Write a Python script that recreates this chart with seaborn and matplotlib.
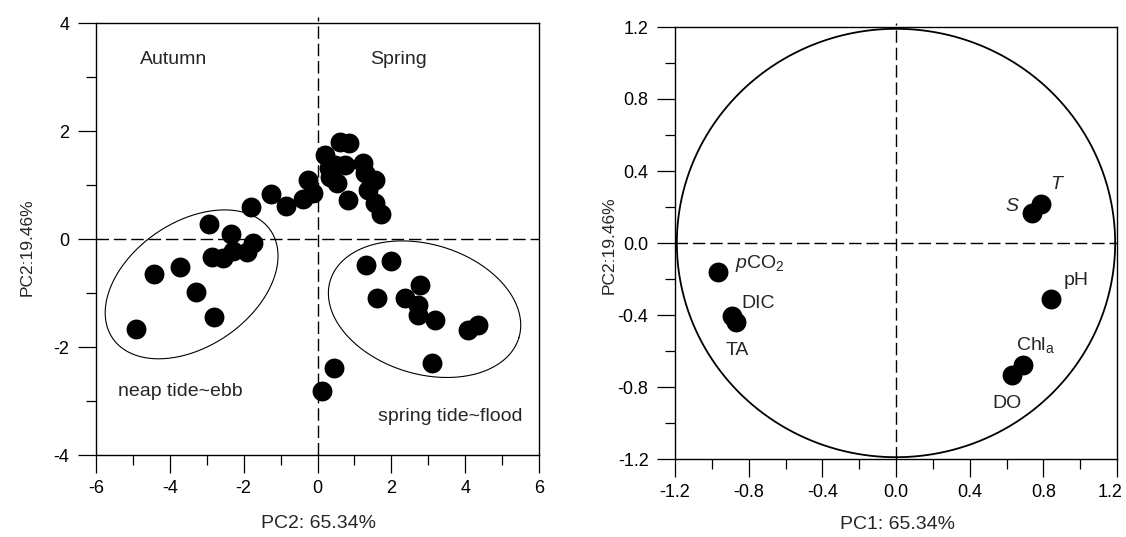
import numpy as np
import pandas as pd
import matplotlib
matplotlib.use("Agg")
import matplotlib.pyplot as plt
from matplotlib.ticker import MultipleLocator, FormatStrFormatter
from matplotlib import font_manager
import matplotlib.transforms as mtransforms
import seaborn as sns

# ---------------- data ----------------
# sample scores (left panel)
score_pc1 = [-4.92, -4.42, -3.73, -3.29, -2.80, -2.93, -2.34, -2.87, -2.55, -2.28, -1.92, -1.74,
             -1.81, -1.26, -0.84, -0.40, -0.25, -0.13,
             0.20, 0.30, 0.61, 0.84, 0.47, 0.75, 0.34, 0.52, 0.83, 1.24, 1.30, 1.56, 1.38, 1.56, 1.72,
             0.45, 0.11,
             1.31, 1.99, 1.60, 2.37, 2.78, 2.73, 2.73, 3.18, 4.09, 4.36, 3.09]
score_pc2 = [-1.67, -0.65, -0.52, -0.98, -1.44, 0.28, 0.10, -0.33, -0.36, -0.22, -0.235, -0.08,
             0.60, 0.83, 0.61, 0.75, 1.09, 0.85,
             1.56, 1.32, 1.80, 1.77, 1.37, 1.37, 1.15, 1.03, 0.72, 1.40, 1.22, 1.09, 0.91, 0.66, 0.46,
             -2.38, -2.81,
             -0.49, -0.41, -1.10, -1.10, -0.85, -1.22, -1.41, -1.50, -1.69, -1.59, -2.30]

# variable loadings (right panel)
var_names = ["S", "T", "pCO2", "DIC", "TA", "pH", "Chla", "DO"]
load_pc1 = [0.740, 0.787, -0.965, -0.889, -0.870, 0.841, 0.688, 0.631]
load_pc2 = [0.165, 0.217, -0.159, -0.404, -0.440, -0.313, -0.678, -0.733]

# group annotations (left panel)
group_text = ["Autumn", "Spring", "neap tide~ebb", "spring tide~flood"]
group_x = [-3.91, 2.19, -3.71, 3.60]
group_y = [3.24, 3.24, -2.91, -3.37]

# ellipses: centre (data), semi-axes (in x-data units), tilt angle (deg, on screen)
ell_cx = [-3.41, 2.90]
ell_cy = [-0.84, -1.30]
ell_a = [2.59, 2.67]
ell_b = [1.685, 1.755]
ell_ang = [34.3, -16.9]

# loading labels
lab_text = [r"$\mathit{S}$", r"$\mathit{T}$", r"$\mathit{p}\mathrm{CO}_2$", "DIC", "TA", "pH",
            r"Chl$_\mathrm{a}$", "DO"]
lab_x = [0.592, 0.836, -0.874, -0.838, -0.923, 0.908, 0.650, 0.523]
lab_y = [0.179, 0.298, -0.141, -0.359, -0.622, -0.233, -0.594, -0.918]

circle_r = 1.19

# ---------------- style ----------------
sns.set_style("ticks")
plt.rcParams["font.family"] = ["Liberation Sans", "DejaVu Sans"]
plt.rcParams["mathtext.fontset"] = "custom"
plt.rcParams["mathtext.rm"] = "Liberation Sans"
plt.rcParams["mathtext.it"] = "Liberation Sans:italic"
plt.rcParams["mathtext.bf"] = "Liberation Sans:bold"
plt.rcParams["axes.unicode_minus"] = False


def has_font(name):
    try:
        font_manager.findfont(font_manager.FontProperties(family=name), fallback_to_default=False)
        return True
    except Exception:
        return False


narrow = has_font("Liberation Sans Narrow")
ylab_family = ["Liberation Sans Narrow", "DejaVu Sans"] if narrow else ["Liberation Sans", "DejaVu Sans"]
ylab_size = 14 if narrow else 12.5

W, H = 1126, 537
fig = plt.figure(figsize=(W / 100, H / 100), dpi=100)
ax1 = fig.add_axes([96 / W, (H - 455) / H, 443 / W, 432 / H])
ax2 = fig.add_axes([675 / W, (H - 459) / H, 442 / W, 432 / H])

dash = (0, (9, 3.5))
TICK_FS = 13
TXT_FS = 14


def style_axes(ax, major, minor, fmt):
    for s in ax.spines.values():
        s.set_linewidth(1.0)
        s.set_color("black")
        s.set_visible(True)
    ax.xaxis.set_major_locator(MultipleLocator(major))
    ax.yaxis.set_major_locator(MultipleLocator(major))
    ax.xaxis.set_minor_locator(MultipleLocator(minor))
    ax.yaxis.set_minor_locator(MultipleLocator(minor))
    ax.xaxis.set_major_formatter(FormatStrFormatter(fmt))
    ax.yaxis.set_major_formatter(FormatStrFormatter(fmt))
    ax.tick_params(which="major", direction="out", length=13, width=0.9, colors="black",
                   labelsize=TICK_FS, top=False, right=False)
    ax.tick_params(which="minor", direction="out", length=7, width=0.9, colors="black",
                   top=False, right=False)
    ax.tick_params(axis="x", which="major", pad=5)
    ax.tick_params(axis="y", which="major", pad=6)
    ax.grid(False)


# ---------------- left panel: scores ----------------
scores = pd.DataFrame({"PC1": score_pc1, "PC2": score_pc2})
ax1.set_xlim(-6, 6)
ax1.set_ylim(-4, 4)
ax1.plot([-6, 6], [0, 0], color="black", lw=1.0, ls=dash, zorder=1)
ax1.plot([0, 0], [-4, 4.12], color="black", lw=1.0, ls=dash, zorder=1, clip_on=False)
sns.scatterplot(data=scores, x="PC1", y="PC2", ax=ax1, color="black", s=205,
                linewidth=0, zorder=3, legend=False)

# ellipses drawn in screen-proportional units
pos1 = ax1.get_position()
sx = pos1.width * W / 12.0
sy = pos1.height * H / 8.0
t = np.linspace(0, 2 * np.pi, 400)
for cx, cy, a, b, ang in zip(ell_cx, ell_cy, ell_a, ell_b, ell_ang):
    th = np.deg2rad(ang)
    ap, bp = a * sx, b * sx
    dxp = ap * np.cos(t) * np.cos(th) - bp * np.sin(t) * np.sin(th)
    dyp = ap * np.cos(t) * np.sin(th) + bp * np.sin(t) * np.cos(th)
    ax1.plot(cx + dxp / sx, cy + dyp / sy, color="black", lw=0.8, zorder=2)

for txt, x, y in zip(group_text, group_x, group_y):
    ax1.text(x, y, txt, ha="center", va="baseline", fontsize=TXT_FS)

style_axes(ax1, 2, 1, "%d")
ax1.set_xlabel("PC2: 65.34%", fontsize=TXT_FS)
ax1.xaxis.set_label_coords(0.503, -0.138)
ax1.set_ylabel("PC2:19.46%", fontsize=ylab_size, family=ylab_family)
ax1.yaxis.set_label_coords(-0.139, 0.480)

# ---------------- right panel: loadings ----------------
loads = pd.DataFrame({"PC1": load_pc1, "PC2": load_pc2, "var": var_names})
ax2.set_xlim(-1.2, 1.2)
ax2.set_ylim(-1.2, 1.2)
ax2.plot([-1.2, 1.2], [0, 0], color="black", lw=1.0, ls=dash, zorder=1)
ax2.plot([0, 0], [-1.2, 1.222], color="black", lw=1.0, ls=dash, zorder=1, clip_on=False)
ax2.plot(circle_r * np.cos(t), circle_r * np.sin(t), color="black", lw=1.3, zorder=2)
sns.scatterplot(data=loads, x="PC1", y="PC2", ax=ax2, color="black", s=205,
                linewidth=0, zorder=3, legend=False)
for txt, x, y in zip(lab_text, lab_x, lab_y):
    ax2.text(x, y, txt, ha="left", va="baseline", fontsize=TXT_FS)

style_axes(ax2, 0.4, 0.2, "%.1f")
ax2.set_xlabel("PC1: 65.34%", fontsize=TXT_FS)
ax2.xaxis.set_label_coords(0.503, -0.131)
ax2.set_ylabel("PC2:19.46%", fontsize=ylab_size, family=ylab_family)
ax2.yaxis.set_label_coords(-0.131, 0.495)

# nudge the last x tick label of the right panel so it stays inside the figure
locs = ax2.xaxis.get_majorticklocs()
ticks = ax2.xaxis.get_major_ticks(len(locs))
shift = mtransforms.ScaledTranslation(-7 / 100, 0, fig.dpi_scale_trans)
for tk, loc in zip(ticks, locs):
    if abs(loc - 1.2) < 1e-6:
        tk.label1.set_transform(tk.label1.get_transform() + shift)

fig.savefig("out.png", dpi=100)
